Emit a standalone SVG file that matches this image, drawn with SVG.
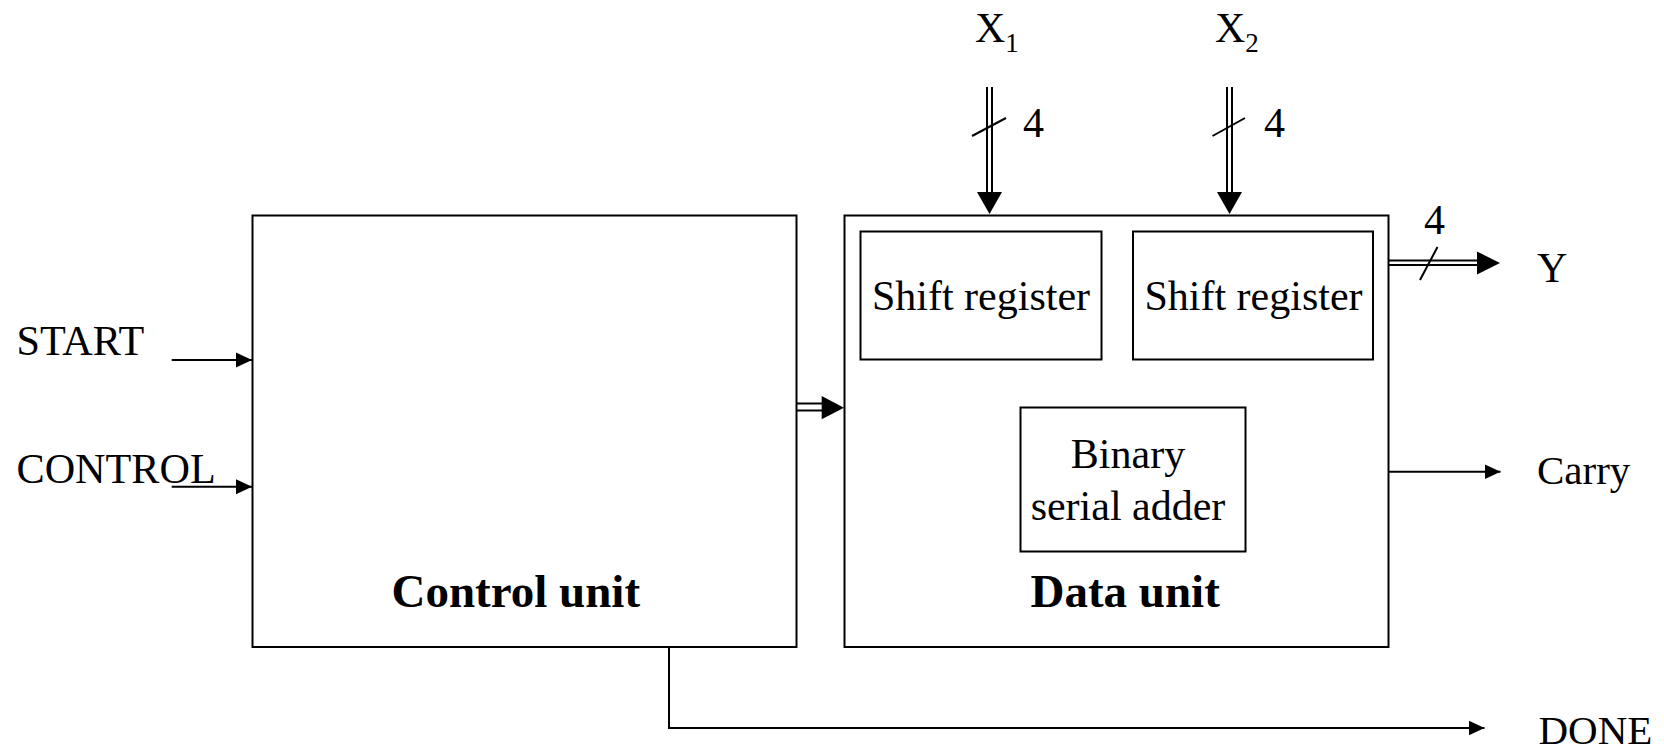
<svg xmlns="http://www.w3.org/2000/svg" width="1664" height="750" viewBox="0 0 1664 750">
<defs>
<style>
.box{fill:#fff;stroke:#000;stroke-width:2}
.ln{fill:none;stroke:#000;stroke-width:2}
.t{font-family:"Liberation Serif","Times New Roman",serif;fill:#000}
.lbl{font-size:41px}
.lbl2{font-size:42.2px}
.in{font-size:42px}
.b{font-size:47px;font-weight:bold}
</style>
<marker id="ah" markerUnits="userSpaceOnUse" markerWidth="16" markerHeight="16" refX="16" refY="8" orient="auto">
<path d="M0,0.5 L16,8 L0,15.5 z" fill="#000"/>
</marker>
</defs>
<rect width="1664" height="750" fill="#fff"/>

<g id="control-unit">
<rect class="box" x="252.5" y="215.5" width="544" height="431.5"/>
<text class="t b" x="391.5" y="606.5">Control unit</text>
</g>

<g id="data-unit">
<rect class="box" x="844.5" y="215.5" width="544" height="431.5"/>
<text class="t b" x="1030.5" y="606.5">Data unit</text>
</g>

<g id="shift-register-1">
<rect class="box" x="860.5" y="231.5" width="241" height="128"/>
<text class="t in" x="981" y="310" text-anchor="middle">Shift register</text>
</g>

<g id="shift-register-2">
<rect class="box" x="1133" y="231.5" width="240" height="128"/>
<text class="t in" x="1253.5" y="310" text-anchor="middle">Shift register</text>
</g>

<g id="binary-serial-adder">
<rect class="box" x="1020.5" y="407.5" width="225" height="144"/>
<text class="t in" x="1128" y="468" text-anchor="middle">Binary</text>
<text class="t in" x="1128" y="520" text-anchor="middle">serial adder</text>
</g>

<g id="labels">
<text class="t lbl2" x="16.5" y="355">START</text>
<text class="t lbl2" x="16.5" y="483">CONTROL</text>
<text class="t lbl" x="1537" y="484">Carry</text>
<text class="t lbl" x="1538.5" y="744">DONE</text>
<text class="t in" x="1537" y="282">Y</text>
<text class="t in" x="975" y="42">X<tspan font-size="27" dy="10">1</tspan></text>
<text class="t in" x="1215" y="42">X<tspan font-size="27" dy="10">2</tspan></text>
<text class="t in" x="1023" y="137">4</text>
<text class="t in" x="1264" y="137">4</text>
<text class="t in" x="1424" y="234">4</text>
</g>

<g id="connectors">
<line class="ln" x1="171.7" y1="360" x2="252" y2="360" marker-end="url(#ah)"/>
<line class="ln" x1="171.7" y1="486.7" x2="252" y2="486.7" marker-end="url(#ah)"/>
<line class="ln" x1="1389" y1="471.7" x2="1500.5" y2="471.7" marker-end="url(#ah)"/>
<polyline class="ln" points="669,647 669,728 1484.5,728" marker-end="url(#ah)"/>

<line class="ln" x1="987" y1="87" x2="987" y2="196"/>
<line class="ln" x1="992" y1="87" x2="992" y2="196"/>
<polygon points="977,192 1002,192 989.5,214" fill="#000"/>
<line class="ln" x1="972" y1="136" x2="1006" y2="118"/>

<line class="ln" x1="1227" y1="87" x2="1227" y2="196"/>
<line class="ln" x1="1232" y1="87" x2="1232" y2="196"/>
<polygon points="1217,192 1242,192 1229.5,214" fill="#000"/>
<line class="ln" x1="1212.5" y1="136" x2="1245" y2="118"/>

<line class="ln" x1="1389" y1="260.5" x2="1480" y2="260.5"/>
<line class="ln" x1="1389" y1="265" x2="1480" y2="265"/>
<polygon points="1477,251.5 1477,274.5 1500,263" fill="#000"/>
<line class="ln" x1="1420" y1="280" x2="1437.5" y2="247"/>

<line class="ln" x1="797" y1="403.5" x2="824" y2="403.5"/>
<line class="ln" x1="797" y1="410.5" x2="824" y2="410.5"/>
<polygon points="821.7,396 821.7,419.3 844,407.7" fill="#000"/>
</g>
</svg>
